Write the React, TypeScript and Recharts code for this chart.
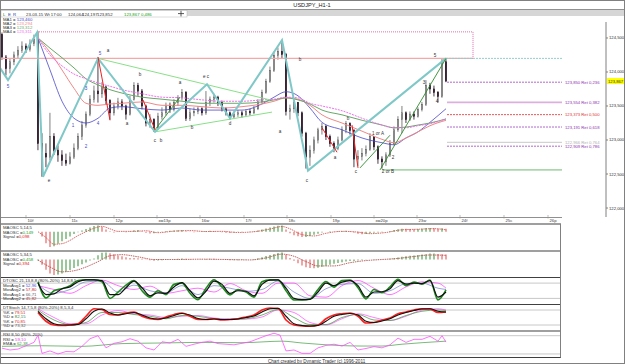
import React from 'react';
import { ComposedChart, Bar, Line, XAxis, YAxis, ReferenceLine, ReferenceDot, Cell } from 'recharts';

const FONT = '"Liberation Sans", Arial, sans-serif';

// ---------------- DATA ----------------
// H1 candles [open, high, low, close]
const candles: [number, number, number, number][] = [
  [124.55, 124.58, 124.18, 124.22], [124.22, 124.25, 123.95, 124.05], [124.05, 124.2, 123.98, 124.15], [124.15, 124.3, 124.1, 124.25],
  [124.25, 124.38, 124.2, 124.32], [124.32, 124.45, 124.28, 124.38], [124.38, 124.42, 124.28, 124.33], [124.33, 124.48, 124.3, 124.42],
  [124.42, 124.55, 124.38, 124.48], [124.48, 124.6, 122.85, 122.95], [122.95, 123.1, 122.46, 122.8], [122.8, 122.95, 122.6, 122.75],
  [122.75, 123.4, 122.7, 123.05], [123.05, 123.1, 122.78, 122.85], [122.85, 122.92, 122.68, 122.78], [122.78, 122.85, 122.62, 122.7],
  [122.7, 122.8, 122.62, 122.66], [122.66, 122.82, 122.64, 122.75], [122.75, 122.95, 122.72, 122.88], [122.88, 123.1, 122.85, 123.05],
  [123.05, 123.28, 123.0, 123.22], [123.22, 123.42, 123.18, 123.38], [123.38, 123.66, 123.35, 123.6], [123.6, 123.8, 123.55, 123.72],
  [123.72, 124.18, 123.55, 123.68], [123.68, 123.85, 123.62, 123.78], [123.78, 123.8, 123.52, 123.58], [123.58, 123.6, 123.3, 123.4],
  [123.4, 123.55, 123.36, 123.5], [123.5, 123.62, 123.45, 123.56], [123.56, 123.6, 123.44, 123.5], [123.5, 123.52, 123.3, 123.38],
  [123.38, 123.65, 123.36, 123.6], [123.6, 123.85, 123.58, 123.8], [123.8, 123.84, 123.65, 123.72], [123.72, 123.75, 123.45, 123.5],
  [123.5, 123.52, 123.2, 123.25], [123.25, 123.38, 123.18, 123.3], [123.3, 123.32, 123.12, 123.18], [123.18, 123.4, 123.15, 123.35],
  [123.35, 123.48, 123.3, 123.4], [123.4, 123.55, 123.36, 123.5], [123.5, 123.55, 123.4, 123.45], [123.45, 123.6, 123.42, 123.55],
  [123.55, 123.66, 123.5, 123.62], [123.62, 123.75, 123.58, 123.7], [123.7, 123.72, 123.28, 123.32], [123.32, 123.46, 123.28, 123.4],
  [123.4, 123.48, 123.35, 123.42], [123.42, 123.5, 123.38, 123.46], [123.46, 123.48, 123.36, 123.4], [123.4, 123.72, 123.37, 123.55],
  [123.55, 123.64, 123.5, 123.6], [123.6, 123.68, 123.55, 123.63], [123.63, 123.65, 123.5, 123.55], [123.55, 123.58, 123.42, 123.46],
  [123.46, 123.48, 123.36, 123.4], [123.4, 123.42, 123.3, 123.34], [123.34, 123.42, 123.32, 123.38], [123.38, 123.44, 123.34, 123.4],
  [123.4, 123.43, 123.33, 123.37], [123.37, 123.45, 123.35, 123.42], [123.42, 123.46, 123.36, 123.4], [123.4, 123.5, 123.38, 123.46],
  [123.46, 123.6, 123.44, 123.56], [123.56, 123.74, 123.54, 123.7], [123.7, 123.9, 123.68, 123.86], [123.86, 124.08, 123.84, 124.02],
  [124.02, 124.3, 124.0, 124.24], [124.24, 124.36, 124.18, 124.3], [124.3, 124.47, 124.2, 124.26], [124.26, 124.28, 123.36, 123.42],
  [123.42, 123.52, 123.3, 123.46], [123.46, 123.6, 123.4, 123.55], [123.55, 123.56, 123.35, 123.4], [123.4, 123.42, 123.05, 123.1],
  [123.1, 123.12, 122.58, 122.75], [122.75, 122.92, 122.62, 122.85], [122.85, 123.05, 122.8, 123.0], [123.0, 123.18, 122.95, 123.15],
  [123.15, 123.25, 123.08, 123.2], [123.2, 123.22, 123.0, 123.05], [123.05, 123.08, 122.9, 122.95], [122.95, 122.98, 122.82, 122.88],
  [122.88, 123.05, 122.85, 123.0], [123.0, 123.2, 122.98, 123.15], [123.15, 123.28, 123.1, 123.24], [123.24, 123.26, 123.08, 123.14],
  [123.14, 123.16, 122.6, 122.72], [122.72, 122.85, 122.62, 122.76], [122.76, 122.88, 122.7, 122.8], [122.8, 122.92, 122.76, 122.86],
  [122.86, 123.1, 122.84, 123.05], [123.05, 123.06, 122.85, 122.9], [122.9, 122.92, 122.65, 122.72], [122.72, 122.76, 122.58, 122.68],
  [122.68, 122.82, 122.62, 122.78], [122.78, 123.0, 122.75, 122.95], [122.95, 123.2, 122.92, 123.15], [123.15, 123.35, 123.12, 123.3],
  [123.3, 123.5, 123.1, 123.4], [123.4, 123.42, 123.25, 123.3], [123.3, 123.42, 123.28, 123.38], [123.38, 123.42, 123.3, 123.35],
  [123.35, 123.48, 123.33, 123.45], [123.45, 123.56, 123.42, 123.52], [123.52, 123.88, 123.5, 123.8], [123.8, 123.84, 123.68, 123.75],
  [123.75, 123.8, 123.64, 123.7], [123.7, 123.72, 123.55, 123.64], [123.64, 124.2, 123.62, 124.15], [124.15, 124.19, 123.85, 123.867],
];

const dateTickIdx = [6, 17, 28, 38.75, 49.5, 60.5, 71.25, 82.25, 93, 103.75, 114.5, 125.5, 136.5];
const dateLabels = ['10f', '11c', '12p', 'хм13p', '16w', '17f', '18c', '19p', 'хм20p', '23w', '24f', '25c', '26p'];
const priceTicks = [122, 122.5, 123, 123.5, 124, 124.5];

// moving averages (sampled)
const maIdx = [9, 12, 15, 18, 21, 24, 27, 30, 35, 40, 45, 50, 55, 60, 65, 68, 71, 74, 77, 80, 85, 90, 95, 98, 101, 104, 107, 111];
const ma1 = [124.5, 124.03, 123.57, 123.32, 123.25, 123.32, 123.47, 123.49, 123.46, 123.44, 123.47, 123.44, 123.44, 123.44, 123.53, 123.63, 123.71, 123.65, 123.47, 123.26, 123.15, 123.03, 122.96, 122.93, 123.03, 123.12, 123.26, 123.46];
const ma2 = [124.5, 124.29, 124.03, 123.76, 123.54, 123.51, 123.53, 123.54, 123.56, 123.51, 123.51, 123.49, 123.47, 123.49, 123.53, 123.57, 123.62, 123.6, 123.51, 123.37, 123.25, 123.13, 123.01, 122.96, 123.03, 123.12, 123.21, 123.29];
const ma3 = [124.5, 124.35, 124.21, 124.06, 123.9, 123.81, 123.74, 123.69, 123.63, 123.6, 123.57, 123.54, 123.54, 123.54, 123.56, 123.59, 123.62, 123.59, 123.53, 123.44, 123.37, 123.29, 123.22, 123.18, 123.19, 123.22, 123.25, 123.31];
const ma4 = [124.5, 124.25, 124.09, 123.97, 123.9, 123.84, 123.79, 123.74, 123.68, 123.63, 123.62, 123.59, 123.57, 123.57, 123.59, 123.6, 123.63, 123.62, 123.54, 123.5, 123.43, 123.32, 123.22, 123.18, 123.18, 123.21, 123.24, 123.31];
const maNames = ['MA1', 'MA2', 'MA3', 'MA4'];
const maValues = ['123,460', '123,294', '123,312', '123,311'];

// zigzag pivots
const zigIdx = [-0.5, 1.5, 8.75, 10.25, 24, 38.25, 51.25, 57, 70, 76.5, 111];
const zigPrice = [124.06, 123.88, 124.58, 122.46, 124.2, 123.12, 123.82, 123.32, 124.47, 122.55, 124.2];
// straight study lines [i1, p1, i2, p2]
const waveLines = [[38.25, 123.15, 44.5, 123.63], [89.5, 122.59, 97, 123.07], [94.5, 122.56, 111, 124.2]];
const redLines = [[24, 124.22, 27, 123.29], [35.25, 123.59, 38.25, 123.15], [80, 123.18, 83.75, 122.82], [87.5, 123.22, 89, 122.59]];
const triLines = [[24, 124.2, 67, 123.59], [38.25, 123.12, 67.5, 123.41]];
const boxTop = 124.59;
const boxBottom = 124.2;
const boxStart = 8.75;
const boxEnd = 117.75;
const swingLow = 122.56;
const lastClose = 123.867;

// fib retracements
const fibLevels = [123.85, 123.554, 123.373, 123.191, 122.966, 122.909];
const fibRatios = ['0,236', '0,382', '0,500', '0,618', '0,764', '0,786'];

// wave annotations
const annots = [
  { i: 1.5, p: 123.79, t: '5', k: 1 }, { i: 11.75, p: 122.41, t: 'e', k: 0 }, { i: 17.75, p: 123.22, t: '1', k: 1 },
  { i: 21, p: 122.91, t: '2', k: 1 }, { i: 21, p: 123.75, t: '3', k: 1 }, { i: 24, p: 123.25, t: '4', k: 1 },
  { i: 24.5, p: 124.27, t: '5', k: 1 }, { i: 26.5, p: 124.32, t: 'a', k: 0 }, { i: 31.25, p: 123.24, t: 'a', k: 0 },
  { i: 34.5, p: 123.97, t: 'b', k: 0 }, { i: 38.25, p: 122.99, t: 'c', k: 0 }, { i: 39.75, p: 122.99, t: 'b', k: 0 },
  { i: 44.5, p: 123.84, t: 'a', k: 0 }, { i: 47.5, p: 123.18, t: 'b', k: 0 }, { i: 51, p: 123.93, t: 'e  c', k: 0 },
  { i: 57, p: 123.24, t: 'd', k: 0 }, { i: 69.5, p: 123.12, t: 'a', k: 0 }, { i: 74.5, p: 124.18, t: 'b', k: 0 },
  { i: 76.25, p: 122.41, t: 'c', k: 0 }, { i: 83.25, p: 122.75, t: 'a', k: 0 }, { i: 86.5, p: 123.31, t: 'b', k: 0 },
  { i: 88.5, p: 122.53, t: 'c', k: 0 }, { i: 94, p: 123.1, t: '1 or A', k: 0 }, { i: 97.75, p: 122.74, t: '2', k: 0 },
  { i: 96.5, p: 122.53, t: '2 or B', k: 0 }, { i: 105.5, p: 123.84, t: '3', k: 0 }, { i: 108.75, p: 123.56, t: '4', k: 0 },
  { i: 108.25, p: 124.24, t: '5', k: 0 },
];

// MAOSC 5,14,5 histogram (bars 9..111) and signal
const osc1 = [0, -0.25, -0.6, -0.79, -0.75, -0.62, -0.5, -0.38, -0.25, -0.12, -0.03, 0.06, 0.14, 0.22, 0.3, 0.33, 0.24, 0.12, 0.02, -0.04,
  -0.02, 0.01, -0.03, 0.03, 0.08, 0.09, 0.03, -0.05, -0.09, -0.08, -0.03, 0.01, 0.04, 0.05, 0.06, 0.08, 0.09, 0.03, -0.02, -0.03,
  -0.01, 0.02, 0.04, 0.05, 0.04, 0.01, -0.03, -0.05, -0.06, -0.04, -0.02, -0.01, 0, 0.01, 0.03, 0.07, 0.12, 0.17, 0.22, 0.27,
  0.31, 0.33, 0.12, -0.08, -0.18, -0.24, -0.28, -0.27, -0.22, -0.16, -0.1, -0.04, 0, 0.02, 0.01, 0.02, 0.04, 0.05, 0.03, -0.04,
  -0.1, -0.13, -0.12, -0.08, -0.05, -0.04, -0.03, 0, 0.04, 0.09, 0.13, 0.16, 0.15, 0.14, 0.13, 0.14, 0.15, 0.19, 0.2, 0.18, 0.16, 0.18, 0.15];
const sig1Idx = [9, 11, 13, 15, 17, 19, 21, 23, 25, 27, 29, 33, 36, 39, 43, 47, 51, 55, 59, 63, 67, 70, 72, 75, 78, 81, 85, 89, 92, 96, 100, 104, 108, 111];
const sig1 = [0, -0.3, -0.65, -0.62, -0.45, -0.2, 0, 0.18, 0.28, 0.15, 0.02, 0.02, 0.05, -0.05, 0.03, 0.06, 0.01, 0.02, -0.04, 0, 0.14, 0.27, 0.15, -0.15, -0.22, -0.08, 0.02, -0.02, -0.1, -0.04, 0.1, 0.13, 0.16, 0.1];

// MAOSC 5,34,5
const osc2 = [-0.1, -0.5, -0.95, -1.3, -1.45, -1.4, -1.3, -1.15, -0.98, -0.8, -0.62, -0.45, -0.28, -0.1, 0.1, 0.4, 0.62, 0.65, 0.58, 0.48,
  0.38, 0.3, 0.2, 0.15, 0.14, 0.12, 0.06, -0.02, -0.08, -0.12, -0.1, -0.06, -0.03, 0, 0.03, 0.06, 0.09, 0.07, 0.03, 0,
  -0.01, 0.02, 0.05, 0.07, 0.06, 0.03, -0.01, -0.05, -0.08, -0.08, -0.06, -0.04, -0.02, 0, 0.04, 0.12, 0.22, 0.32, 0.42, 0.52,
  0.6, 0.66, 0.45, 0.15, -0.12, -0.35, -0.55, -0.72, -0.8, -0.82, -0.78, -0.68, -0.58, -0.48, -0.4, -0.32, -0.25, -0.18, -0.14, -0.13,
  -0.1, -0.06, -0.03, 0, 0.02, 0.02, 0, 0.02, 0.06, 0.12, 0.18, 0.25, 0.3, 0.34, 0.38, 0.42, 0.46, 0.5, 0.55, 0.56, 0.52, 0.5, 0.46];
const sig2Idx = [9, 12, 15, 18, 21, 24, 27, 30, 34, 38, 44, 50, 56, 62, 66, 70, 73, 76, 79, 83, 87, 91, 95, 99, 103, 107, 111];
const sig2 = [-0.05, -0.7, -1.15, -1.05, -0.7, -0.2, 0.35, 0.45, 0.25, 0, 0, 0.03, 0, -0.04, 0.15, 0.5, 0.3, -0.2, -0.6, -0.6, -0.3, -0.1, 0, 0.1, 0.28, 0.42, 0.39];

// DTOSC (every 2 bars from 9) and slow lines (every 4 bars + last)
const dtoGreen = [85, 22, 50, 58, 70, 90, 93, 93, 85, 20, 45, 72, 90, 50, 25, 50, 35, 75, 80, 40, 15, 60, 93, 65, 34, 55, 45, 25, 85, 93,
  92, 50, 14, 14, 18, 55, 86, 64, 90, 92, 62, 18, 55, 42, 65, 95, 70, 84, 76, 92, 14, 53];
const dtoBlack = [80, 35, 38, 58, 65, 85, 93, 93, 90, 35, 35, 62, 88, 62, 30, 42, 40, 65, 82, 50, 22, 48, 88, 75, 40, 50, 48, 30, 75, 92,
  93, 60, 20, 15, 16, 45, 80, 70, 84, 90, 70, 25, 45, 46, 58, 90, 76, 80, 78, 90, 25, 45];
const dtoBlue = [75, 40, 55, 85, 88, 45, 72, 50, 42, 70, 35, 70, 60, 48, 55, 88, 45, 20, 58, 75, 78, 40, 50, 78, 80, 60, 55];
const dtoPink = [70, 55, 40, 70, 92, 70, 55, 68, 40, 50, 60, 45, 78, 50, 40, 80, 80, 30, 25, 70, 90, 60, 35, 65, 85, 80, 60];

// DTStoch
const stRed = [70, 35, 20, 18, 20, 25, 55, 85, 82, 62, 60, 68, 72, 55, 45, 42, 52, 62, 68, 55, 42, 42, 45, 40, 42, 45, 52, 60, 80, 88,
  86, 40, 20, 16, 15, 20, 45, 60, 65, 68, 55, 28, 30, 40, 48, 65, 72, 80, 85, 84, 70, 72];
const stBlack = [75, 45, 25, 20, 20, 22, 45, 75, 84, 68, 60, 65, 70, 60, 48, 44, 48, 58, 66, 60, 46, 42, 44, 42, 42, 44, 50, 56, 72, 85,
  87, 55, 25, 18, 16, 18, 35, 55, 62, 66, 60, 35, 30, 36, 45, 60, 70, 78, 84, 85, 75, 72];
const stGreen = [80, 40, 22, 30, 70, 70, 62, 55, 45, 58, 55, 45, 42, 45, 60, 82, 50, 22, 22, 50, 62, 40, 38, 58, 75, 80, 78];
const stPink = [85, 50, 25, 25, 60, 78, 65, 60, 50, 55, 58, 48, 44, 44, 52, 80, 70, 30, 20, 45, 65, 50, 38, 55, 80, 85, 80];

// RSI
const rsiIdx = [0, 2, 4, 6, 8, 9, 10, 12, 14, 16, 18, 20, 22, 24, 26, 28, 30, 32, 34, 36, 38, 40, 42, 44, 46, 48, 50, 52, 54, 56, 58, 60, 62, 64, 66, 68,
  69.5, 71, 73, 75, 77, 79, 81, 83, 85, 87, 89, 91, 93, 95, 97, 99, 101, 103, 105, 107, 109, 110, 111];
const rsi = [39, 33, 36, 47, 58, 82, 22, 30, 20, 28, 27, 45, 70, 80, 40, 55, 60, 70, 62, 40, 33, 60, 56, 68, 45, 52, 58, 62, 54, 52, 50, 55, 60, 70, 80, 88,
  82, 30, 33, 22, 22, 40, 48, 52, 46, 58, 33, 38, 44, 40, 50, 72, 58, 68, 68, 78, 62, 80, 59];
const emaIdx = [0, 10, 20, 30, 40, 50, 60, 70, 75, 80, 90, 95, 100, 105, 111];
const ema = [45, 47, 45, 54, 56, 58, 57, 62, 56, 51, 46, 46, 52, 57, 62];

// ---------------- BUILD ----------------
const fmt = (v: number) => v.toFixed(3).replace('.', ',');
const candleData = candles.map(([o, h, l, c], i) => ({ i, o, h, l, c }));
const zip = (idx: number[], vals: number[]) => idx.map((i, k) => ({ i, v: vals[k] }));
const seq = (start: number, step: number, n: number) => Array.from({ length: n }, (_, k) => start + step * k);
const idx2 = seq(9, 2, 52);
const idx4 = [...seq(9, 4, 26), 111];
const osc1Data = zip(seq(9, 1, osc1.length), osc1);
const osc2Data = zip(seq(9, 1, osc2.length), osc2);
const zigData = zip(zigIdx, zigPrice);

const fibColors = ['#a040c0', '#dcb0dc', '#e03030', '#a040c0', '#c8c8c8', '#a040c0'];
const fibText = ['#9030b0', '#9030b0', '#e03030', '#9030b0', '#b0b0b0', '#9030b0'];
const fibDash = ['2 1', '', '2 1', '2 1', '', '2 1'];
const fibWidth = [0.8, 1.6, 0.8, 0.8, 1, 0.8];
const maColors = ['#4848c8', '#f08888', '#68a868', '#f070f0'];

const CandleShape = (props: any) => {
  const { x, y, width, height } = props;
  const d = props.payload || props;
  const { o, h, l, c } = d;
  const top = Math.min(y, y + height);
  const hh = Math.abs(height);
  const span = h - l || 1e-9;
  const py = (v: number) => top + ((h - v) / span) * hh;
  const cx = x + width / 2;
  const up = c >= o;
  const bt = py(Math.max(o, c));
  const bb = py(Math.min(o, c));
  const bh = Math.max(bb - bt, 0.8);
  const dark = '#1e0a1c';
  return (
    <g>
      <line x1={cx} x2={cx} y1={top} y2={top + hh} stroke={up ? '#606060' : dark} strokeWidth={0.8} />
      <rect x={x} y={bt} width={width} height={bh} fill={up ? '#ffffff' : dark} stroke={up ? '#505050' : dark} strokeWidth={0.6} />
    </g>
  );
};

const DateTick = (props: any) => {
  const { x, y, payload } = props;
  const k = dateTickIdx.indexOf(payload.value);
  return (
    <g>
      <line x1={x} x2={x} y1={y - 2} y2={y + 1.5} stroke="#909090" strokeWidth={0.6} />
      <text x={x + 1.5} y={y + 5.2} fontSize={4.2} fill="#404040" fontFamily={FONT}>{dateLabels[k]}</text>
    </g>
  );
};

const priceTag = (p: any) => {
  const vb = p.viewBox || p;
  const x = vb.x + vb.width;
  const y = vb.y;
  return (
    <g>
      <rect x={x + 1} y={y - 3} width={18} height={6} fill="#ffff00" />
      <text x={x + 2} y={y + 1.6} fontSize={4.2} fill="#303030" fontFamily={FONT}>{fmt(lastClose)}</text>
    </g>
  );
};

const segLine = (s: number[], key: string, stroke: string, width: number, dash?: string) => (
  <ReferenceLine key={key} segment={[{ x: s[0], y: s[1] }, { x: s[2], y: s[3] }]} stroke={stroke} strokeWidth={width} strokeDasharray={dash} ifOverflow="visible" />
);

const PANEL_W = 561;
const panelX = (
  <XAxis type="number" dataKey="i" domain={[-0.5, 139.75]} hide allowDataOverflow />
);

function Panel(props: { top: number; height: number; domain: [number, number]; data?: any[]; children: any }) {
  return (
    <div style={{ position: 'absolute', left: 0, top: props.top }}>
      <ComposedChart width={PANEL_W} height={props.height} data={props.data} margin={{ top: 0, right: 0, bottom: 0, left: 0 }}>
        {panelX}
        <YAxis domain={props.domain} hide allowDataOverflow />
        {props.children}
      </ComposedChart>
    </div>
  );
}

const T = (p: { x: number; y: number; c?: string; children: any; s?: number }) => (
  <text x={p.x} y={p.y} fontSize={p.s || 4.3} fill={p.c || '#303030'} fontFamily={FONT}>{p.children}</text>
);

export default function App() {
  return (
    <div style={{ position: 'absolute', left: 0, top: 0, width: 625, height: 364, background: '#ffffff', overflow: 'hidden' }}>
      {/* main price chart */}
      <div style={{ position: 'absolute', left: 0, top: 17 }}>
        <ComposedChart width={625} height={207} data={candleData} margin={{ top: 5, right: 0, bottom: 0, left: 0 }}>
          <XAxis type="number" dataKey="i" domain={[-0.5, 151]} allowDataOverflow ticks={dateTickIdx} interval={0} height={7}
            axisLine={false} tickLine={false} tickSize={0} tickMargin={0} tick={DateTick} />
          <YAxis orientation="right" width={19} domain={[121.868, 124.735]} allowDataOverflow ticks={priceTicks} interval={0}
            tickFormatter={fmt} tick={{ fontSize: 4.2, fill: '#303030', fontFamily: FONT }} tickSize={2} tickMargin={1}
            axisLine={{ stroke: '#808080' }} tickLine={{ stroke: '#808080' }} />

          {/* box and levels */}
          {segLine([-0.5, boxBottom, boxEnd, boxBottom], 'pinkbase', '#f4a8a8', 1.4)}
          {segLine([boxStart, boxTop, boxEnd, boxTop], 'pinktop', '#e04890', 0.8, '1 1')}
          {segLine([boxEnd, boxTop, boxEnd, boxBottom], 'pinkright', '#e04890', 0.8, '1 1')}
          {segLine([111, boxBottom, 140, boxBottom], 'cyanlevel', '#90d0d0', 1, '2 1')}
          {segLine([95, swingLow, 140, swingLow], 'greenlevel', '#70b870', 1)}
          {fibLevels.map((p, k) => (
            <ReferenceLine key={'fib' + k} segment={[{ x: 111.25, y: p }, { x: 140, y: p }]} stroke={fibColors[k]}
              strokeWidth={fibWidth[k]} strokeDasharray={fibDash[k] || undefined} ifOverflow="visible"
              label={{ value: `${fmt(p)} Ret ${fibRatios[k]}`, position: 'right', fill: fibText[k], fontSize: 4.2, offset: 3, fontFamily: FONT }} />
          ))}

          {/* moving averages */}
          {[ma1, ma2, ma3, ma4].map((m, k) => (
            <Line key={'ma' + k} data={zip(maIdx, m)} dataKey="v" type="monotone" stroke={maColors[k]} strokeWidth={k === 0 ? 0.8 : 1}
              strokeDasharray={k === 3 ? '2 1' : undefined} dot={false} isAnimationActive={false} />
          ))}

          {/* study lines */}
          {triLines.map((s, k) => segLine(s, 'tri' + k, '#88e088', 1))}
          <Line data={zigData} dataKey="v" type="linear" stroke="#80c8c8" strokeWidth={2} dot={false} isAnimationActive={false} />
          {waveLines.map((s, k) => segLine(s, 'wave' + k, '#2c8c2c', 0.9))}
          {redLines.map((s, k) => segLine(s, 'red' + k, '#ee2020', 1))}

          {/* candles */}
          <Bar dataKey={(d: any) => [d.l, d.h]} barSize={3} shape={CandleShape} isAnimationActive={false} />

          {/* annotations */}
          {annots.map((a, k) => (
            <ReferenceDot key={'an' + k} x={a.i} y={a.p} r={1} ifOverflow="visible"
              shape={(p: any) => (
                <text x={p.cx} y={p.cy + 1.5} textAnchor="middle" fontSize={4.6} fill={a.k ? '#4848c8' : '#303030'} fontFamily={FONT}>{a.t}</text>
              )} />
          ))}

          <ReferenceLine y={lastClose} stroke="none" label={{ content: priceTag }} />
        </ComposedChart>
      </div>

      {/* MAOSC 5,14,5 */}
      <Panel top={225} height={25} domain={[-0.95, 0.35]} data={osc1Data}>
        <Bar dataKey="v" barSize={2} isAnimationActive={false}>
          {osc1Data.map((d, k) => (
            <Cell key={k} fill={k > 0 && d.v < osc1Data[k - 1].v ? '#f0a4a4' : '#98c898'} />
          ))}
        </Bar>
        <Line data={zip(sig1Idx, sig1)} dataKey="v" type="monotone" stroke="#d04848" strokeWidth={0.8} strokeDasharray="1.5 0.8" dot={false} isAnimationActive={false} />
      </Panel>

      {/* MAOSC 5,34,5 */}
      <Panel top={252} height={24} domain={[-1.54, 0.7]} data={osc2Data}>
        <Bar dataKey="v" barSize={2} isAnimationActive={false}>
          {osc2Data.map((d, k) => (
            <Cell key={k} fill={k > 0 && d.v < osc2Data[k - 1].v ? '#f0a4a4' : '#98c898'} />
          ))}
        </Bar>
        <Line data={zip(sig2Idx, sig2)} dataKey="v" type="monotone" stroke="#b04040" strokeWidth={0.8} strokeDasharray="1.5 0.8" dot={false} isAnimationActive={false} />
      </Panel>

      {/* DTOSC */}
      <Panel top={278} height={25.5} domain={[0, 100]}>
        <ReferenceLine y={80} stroke="#c8c8c8" />
        <ReferenceLine y={20} stroke="#c8c8c8" />
        <Line data={zip(idx4, dtoPink)} dataKey="v" type="monotone" stroke="#ff50ff" strokeWidth={0.8} dot={false} isAnimationActive={false} />
        <Line data={zip(idx4, dtoBlue)} dataKey="v" type="monotone" stroke="#7080c8" strokeWidth={0.7} dot={false} isAnimationActive={false} />
        <Line data={zip(idx2, dtoGreen)} dataKey="v" type="monotone" stroke="#1c8a1c" strokeWidth={1.6} dot={false} isAnimationActive={false} />
        <Line data={zip(idx2, dtoBlack)} dataKey="v" type="monotone" stroke="#101010" strokeWidth={1.2} dot={false} isAnimationActive={false} />
      </Panel>

      {/* DTStoch */}
      <Panel top={305} height={25} domain={[0, 100]}>
        <ReferenceLine y={80} stroke="#c8c8c8" />
        <ReferenceLine y={20} stroke="#c8c8c8" />
        <Line data={zip(idx4, stPink)} dataKey="v" type="monotone" stroke="#ff60ff" strokeWidth={0.8} dot={false} isAnimationActive={false} />
        <Line data={zip(idx4, stGreen)} dataKey="v" type="monotone" stroke="#50a050" strokeWidth={0.8} dot={false} isAnimationActive={false} />
        <Line data={zip(idx2, stRed)} dataKey="v" type="monotone" stroke="#ff2020" strokeWidth={1.7} dot={false} isAnimationActive={false} />
        <Line data={zip(idx2, stBlack)} dataKey="v" type="monotone" stroke="#101010" strokeWidth={1.1} dot={false} isAnimationActive={false} />
      </Panel>

      {/* RSI */}
      <Panel top={331} height={26} domain={[10, 95.4]}>
        <ReferenceLine y={80} stroke="#c8c8c8" />
        <ReferenceLine y={20} stroke="#c8c8c8" />
        <Line data={zip(emaIdx, ema)} dataKey="v" type="monotone" stroke="#58a858" strokeWidth={0.8} dot={false} isAnimationActive={false} />
        <Line data={zip(rsiIdx, rsi)} dataKey="v" type="linear" stroke="#ff50ff" strokeWidth={0.8} dot={false} isAnimationActive={false} />
      </Panel>

      {/* frame, titles, legends */}
      <svg width={625} height={364} style={{ position: 'absolute', left: 0, top: 0, pointerEvents: 'none' }}>
        <text x={312} y={7} textAnchor="middle" fontSize={5.6} fill="#202020" fontFamily={FONT}>USDJPY_H1-1</text>
        <line x1={0} x2={625} y1={9.5} y2={9.5} stroke="#909090" strokeWidth={1} />
        <rect x={0} y={10} width={625} height={6} fill="#d6d6d6" />
        <rect x={1} y={10.5} width={186} height={6.5} fill="#ffffff" stroke="#b8b8b8" strokeWidth={0.5} />
        <T x={3} y={15.6} c="#207020">L</T>
        <T x={8} y={15.6} c="#2040a0">E</T>
        <T x={13} y={15.6} c="#2040a0">R</T>
        <T x={26} y={15.6}>23-03-15 Wt 17:00</T>
        <T x={68} y={15.6}>124,064</T>
        <T x={82} y={15.6}>124,197</T>
        <T x={97} y={15.6}>123,852</T>
        <T x={124} y={15.6} c="#10a010">123,867</T>
        <T x={141} y={15.6} c="#10a010">0,486</T>
        <line x1={178} x2={184} y1={13.6} y2={13.6} stroke="#303030" strokeWidth={0.8} />
        <line x1={181} x2={181} y1={10.8} y2={16.4} stroke="#303030" strokeWidth={0.8} />

        {maNames.map((n, k) => (
          <text key={n} x={3} y={20.6 + k * 4} fontSize={4.3} fontFamily={FONT} fill="#303030">
            {n} = <tspan fill={maColors[k]}>{maValues[k]}</tspan>
          </text>
        ))}

        <line x1={0} x2={562} y1={217.5} y2={217.5} stroke="#909090" strokeWidth={1} />
        {[224, 251, 277.5, 304.5, 331, 357.5].map((y) => (
          <line key={y} x1={0} x2={561} y1={y} y2={y} stroke="#404040" strokeWidth={1.2} />
        ))}
        <line x1={560.5} x2={560.5} y1={224} y2={357.5} stroke="#808080" strokeWidth={1} />

        <T x={3} y={229}>MAOSC 5,14,5</T>
        <T x={3} y={233.5}>MAOSC =<tspan fill="#20a020">0,149</tspan></T>
        <T x={3} y={238}>Signal =<tspan fill="#e02020">0,098</tspan></T>

        <T x={3} y={256}>MAOSC 5,34,5</T>
        <T x={3} y={260.5}>MAOSC =<tspan fill="#20a020">0,458</tspan></T>
        <T x={3} y={265}>Signal =<tspan fill="#e02020">0,394</tspan></T>

        <T x={3} y={282}>DTOSC 21,13,8,8 (80%-20%) 14,8,8,5</T>
        <T x={3} y={286.5}>MovAvg1 = <tspan fill="#4848d0">52,96</tspan></T>
        <T x={3} y={291}>MovAvg2 = <tspan fill="#d02020">57,80</tspan></T>
        <T x={3} y={295.5}>MovAvg1 = <tspan fill="#606060">66,71</tspan></T>
        <T x={3} y={300}>MovAvg2 = <tspan fill="#a03030">45,82</tspan></T>

        <T x={3} y={309}>DTStoch 14,7,5,8 (80%-20%) 8,5,3,4</T>
        <T x={3} y={313.5}>%K = <tspan fill="#e02020">79,51</tspan></T>
        <T x={3} y={318}>%D = <tspan fill="#408040">82,15</tspan></T>
        <T x={3} y={322.5}>%K = <tspan fill="#e02020">70,85</tspan></T>
        <T x={3} y={327}>%D = <tspan fill="#606060">73,32</tspan></T>

        <T x={3} y={336}>RSI 8,50 (80%-20%)</T>
        <T x={3} y={340.5}>RSI = <tspan fill="#e040e0">59,10</tspan></T>
        <T x={3} y={345}>EMA = <tspan fill="#40a040">62,38</tspan></T>

        <text x={268} y={362.5} fontSize={4.6} fill="#303030" fontFamily={FONT}>Chart created by Dynamic Trader (c) 1996-2011</text>
        <rect x={0.5} y={0.5} width={624} height={363} fill="none" stroke="#808080" strokeWidth={1} />
      </svg>
    </div>
  );
}
